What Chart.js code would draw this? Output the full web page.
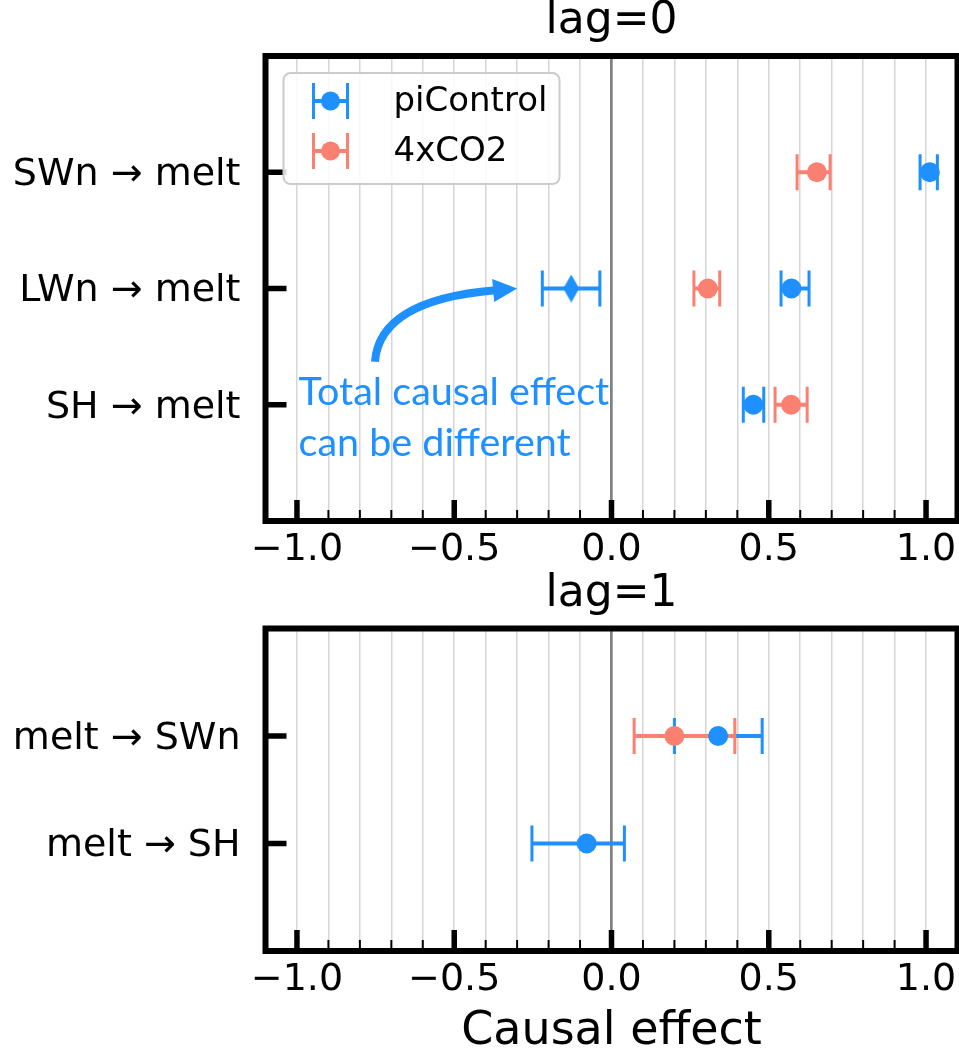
<!DOCTYPE html>
<html>
<head>
<meta charset="utf-8">
<script src="https://cdn.jsdelivr.net/npm/chart.js@4/dist/chart.umd.min.js"></script>
<style>
    html, body { margin: 0; padding: 0; background: #ffffff; }
    .panel { position: absolute; left: 0; }
    #panelTop { top: 0; }
    #panelBottom { top: 570px; }
</style>
</head>
<body>
<div class="panel" id="panelTop"><canvas id="lag0" width="959" height="570"></canvas></div>
<div class="panel" id="panelBottom"><canvas id="lag1" width="959" height="485"></canvas></div>
<script>
// ---- values ----
const seriesNames = ['piControl', '4xCO2'];
const seriesColors = ['#1E90FF', '#FA8072'];

const xTickValues = [-1.0, -0.5, 0.0, 0.5, 1.0];

// lag = 0 (rows listed top to bottom)
const lag0Labels = ['SWn → melt', 'LWn → melt', 'SH → melt'];
const lag0PiControl = [1.012, 0.572, 0.451];
const lag0PiControlLow = [0.981, 0.539, 0.419];
const lag0PiControlHigh = [1.036, 0.628, 0.484];
const lag0Co2 = [0.653, 0.306, 0.571];
const lag0Co2Low = [0.590, 0.262, 0.520];
const lag0Co2High = [0.695, 0.344, 0.622];

// total causal effect (diamond), LWn -> melt
const lag0TotalLabel = ['LWn → melt'];
const lag0Total = [-0.128];
const lag0TotalLow = [-0.220];
const lag0TotalHigh = [-0.037];

// lag = 1
const lag1Labels = ['melt → SWn', 'melt → SH'];
const lag1PiControl = [0.339, -0.079];
const lag1PiControlLow = [0.200, -0.253];
const lag1PiControlHigh = [0.479, 0.041];
const lag1Co2 = [0.200, null];
const lag1Co2Low = [0.072, null];
const lag1Co2High = [0.392, null];

const FONT = "'DejaVu Sans', sans-serif";

// row position: first label on top
function rowOf(labels, name) {
    return labels.length - 1 - labels.indexOf(name);
}

function makePoints(labels, values, low, high) {
    const pts = [];
    values.forEach((v, i) => {
        if (v === null) return;
        pts.push({ x: v, y: labels.length - 1 - i, xMin: low[i], xMax: high[i] });
    });
    return pts;
}

// tall thin diamond marker
function thinDiamond(color) {
    const c = document.createElement('canvas');
    c.width = 16;
    c.height = 28;
    const g = c.getContext('2d');
    g.fillStyle = color;
    g.beginPath();
    g.moveTo(8, 0);
    g.lineTo(16, 14);
    g.lineTo(8, 28);
    g.lineTo(0, 14);
    g.closePath();
    g.fill();
    return c;
}

function formatTick(v) {
    return (v < 0 ? '\u2212' : '') + Math.abs(v).toFixed(1);
}

// horizontal error bars drawn under the markers
const errorBarPlugin = {
    id: 'errorBars',
    beforeDatasetsDraw(chart) {
        const { ctx, scales: { x, y } } = chart;
        ctx.save();
        chart.data.datasets.forEach((ds) => {
            ctx.strokeStyle = ds.barColor;
            ds.data.forEach(p => {
                const py = y.getPixelForValue(p.y);
                const x0 = x.getPixelForValue(p.xMin);
                const x1 = x.getPixelForValue(p.xMax);
                ctx.lineWidth = 4;
                ctx.beginPath();
                ctx.moveTo(x0, py);
                ctx.lineTo(x1, py);
                ctx.stroke();
                ctx.lineWidth = 3;
                ctx.beginPath();
                ctx.moveTo(x0, py - 18);
                ctx.lineTo(x0, py + 18);
                ctx.moveTo(x1, py - 18);
                ctx.lineTo(x1, py + 18);
                ctx.stroke();
            });
        });
        ctx.restore();
    }
};

// frame, inward ticks, legend box and the annotation
const decorPlugin = {
    id: 'panelDecor',
    afterDatasetsDraw(chart, args, opts) {
        const { ctx, chartArea: a, scales: { x, y } } = chart;
        ctx.save();
        ctx.strokeStyle = '#000';

        // x ticks (bottom, inward)
        x.ticks.forEach(t => {
            const px = x.getPixelForValue(t.value);
            if (px < a.left + 2 || px > a.right - 2) return;
            const major = xTickValues.some(v => Math.abs(v - t.value) < 1e-9);
            ctx.lineWidth = major ? 5.5 : 2;
            ctx.beginPath();
            ctx.moveTo(px, a.bottom);
            ctx.lineTo(px, a.bottom - (major ? 21 : 11));
            ctx.stroke();
        });

        // y ticks (left, inward)
        ctx.lineWidth = 5.5;
        y.ticks.forEach(t => {
            const py = y.getPixelForValue(t.value);
            ctx.beginPath();
            ctx.moveTo(a.left, py);
            ctx.lineTo(a.left + 21, py);
            ctx.stroke();
        });

        // frame
        ctx.lineWidth = 6;
        ctx.strokeRect(a.left, a.top, a.right - a.left, a.bottom - a.top);
        ctx.restore();
    },
    afterDraw(chart, args, opts) {
        const { ctx, chartArea: a, scales: { x, y } } = chart;
        ctx.save();

        if (opts.legend) {
            const bx = a.left + 18, by = a.top + 17, bw = 276, bh = 111;
            ctx.fillStyle = 'rgba(255,255,255,0.85)';
            ctx.strokeStyle = '#cccccc';
            ctx.lineWidth = 2;
            ctx.beginPath();
            ctx.roundRect(bx, by, bw, bh, 7);
            ctx.fill();
            ctx.stroke();

            const entries = chart.data.datasets.filter(ds => ds.inLegend);
            entries.forEach((ds, i) => {
                const cy = by + 28 + i * 50;
                const cx = bx + 47;
                ctx.strokeStyle = ds.barColor;
                ctx.lineWidth = 4;
                ctx.beginPath();
                ctx.moveTo(cx - 17, cy);
                ctx.lineTo(cx + 17, cy);
                ctx.stroke();
                ctx.lineWidth = 3;
                ctx.beginPath();
                ctx.moveTo(cx - 17, cy - 18);
                ctx.lineTo(cx - 17, cy + 18);
                ctx.moveTo(cx + 17, cy - 18);
                ctx.lineTo(cx + 17, cy + 18);
                ctx.stroke();
                ctx.fillStyle = ds.barColor;
                ctx.beginPath();
                ctx.arc(cx, cy, 9.5, 0, Math.PI * 2);
                ctx.fill();

                ctx.fillStyle = '#000';
                ctx.font = '34px ' + FONT;
                ctx.textBaseline = 'middle';
                ctx.textAlign = 'left';
                ctx.fillText(ds.label, bx + 110, cy + 1);
            });
        }

        const note = opts.note;
        if (note) {
            ctx.fillStyle = note.color;
            ctx.font = note.font;
            ctx.textBaseline = 'alphabetic';
            ctx.textAlign = 'left';
            const tx = x.getPixelForValue(note.at[0]);
            const ty = y.getPixelForValue(note.at[1]);
            note.lines.forEach((line, i) => ctx.fillText(line, tx, ty + i * note.lineGap));

            // curved arrow
            const p0 = [x.getPixelForValue(note.arrowFrom[0]), y.getPixelForValue(note.arrowFrom[1])];
            const pc = [x.getPixelForValue(note.arrowCtrl[0]), y.getPixelForValue(note.arrowCtrl[1])];
            const tip = [x.getPixelForValue(note.arrowTo[0]), y.getPixelForValue(note.arrowTo[1])];
            const dx = tip[0] - pc[0], dy = tip[1] - pc[1];
            const len = Math.hypot(dx, dy);
            const ux = dx / len, uy = dy / len;
            const headLen = 24, headHalf = 11.5;
            const base = [tip[0] - ux * headLen, tip[1] - uy * headLen];

            ctx.strokeStyle = note.color;
            ctx.lineWidth = 8;
            ctx.lineCap = 'butt';
            ctx.beginPath();
            ctx.moveTo(p0[0], p0[1]);
            ctx.quadraticCurveTo(pc[0], pc[1], base[0] + ux * 2, base[1] + uy * 2);
            ctx.stroke();

            ctx.beginPath();
            ctx.moveTo(tip[0], tip[1]);
            ctx.lineTo(base[0] - uy * headHalf, base[1] + ux * headHalf);
            ctx.lineTo(base[0] + uy * headHalf, base[1] - ux * headHalf);
            ctx.closePath();
            ctx.fill();
        }
        ctx.restore();
    }
};

function buildPanel(canvasId, cfg) {
    const labels = cfg.labels;
    return new Chart(document.getElementById(canvasId), {
        type: 'scatter',
        data: { datasets: cfg.datasets },
        options: {
            responsive: false,
            animation: false,
            events: [],
            layout: { autoPadding: false, padding: { left: 0, right: 1.5, top: 0, bottom: 0 } },
            plugins: {
                legend: { display: false },
                tooltip: { enabled: false },
                title: {
                    display: true,
                    fullSize: false,
                    text: cfg.title,
                    color: '#000',
                    font: { family: FONT, size: 44, weight: 'normal', lineHeight: 1 },
                    padding: cfg.titlePadding
                },
                panelDecor: { legend: cfg.legend, note: cfg.note }
            },
            scales: {
                x: {
                    type: 'linear',
                    min: -1.1,
                    max: 1.1,
                    afterBuildTicks: s => {
                        const ticks = [];
                        for (let i = -11; i <= 11; i++) ticks.push({ value: i / 10 });
                        s.ticks = ticks;
                    },
                    afterFit: s => {
                        s.height = cfg.xAxisHeight;
                        s.paddingLeft = 0;
                        s.paddingRight = 0;
                    },
                    grid: {
                        drawTicks: false,
                        color: c => (c.tick && c.tick.value === 0) ? '#808080' : '#d6d6d6',
                        lineWidth: c => (c.tick && c.tick.value === 0) ? 2.7 : 1.5
                    },
                    border: { display: false },
                    ticks: {
                        autoSkip: false,
                        maxRotation: 0,
                        padding: 6,
                        color: '#000',
                        font: { family: FONT, size: 38 },
                        callback: v => xTickValues.some(t => Math.abs(t - v) < 1e-9) ? formatTick(v) : ''
                    },
                    title: cfg.xTitle ? {
                        display: true,
                        text: cfg.xTitle,
                        color: '#000',
                        font: { family: FONT, size: 46, lineHeight: 1 },
                        padding: { top: 0, bottom: 0 }
                    } : { display: false }
                },
                y: {
                    type: 'linear',
                    min: -1,
                    max: labels.length,
                    afterBuildTicks: s => {
                        s.ticks = labels.map((_, i) => ({ value: i }));
                    },
                    afterFit: s => {
                        s.width = 265.5;
                        s.paddingTop = 0;
                        s.paddingBottom = 0;
                    },
                    grid: { display: false, drawTicks: false },
                    border: { display: false },
                    ticks: {
                        autoSkip: false,
                        padding: 25,
                        labelOffset: 3,
                        color: '#000',
                        font: { family: FONT, size: 38 },
                        callback: v => labels[labels.length - 1 - v]
                    }
                }
            }
        },
        plugins: [errorBarPlugin, decorPlugin]
    });
}

function seriesDataset(i, points) {
    return {
        label: seriesNames[i],
        data: points,
        inLegend: true,
        barColor: seriesColors[i],
        backgroundColor: seriesColors[i],
        borderWidth: 0,
        pointRadius: 10,
        pointStyle: 'circle'
    };
}

// top panel
buildPanel('lag0', {
    title: 'lag=0',
    titlePadding: { top: 0, bottom: 12 },
    xAxisHeight: 49,
    labels: lag0Labels,
    legend: true,
    datasets: [
        seriesDataset(0, makePoints(lag0Labels, lag0PiControl, lag0PiControlLow, lag0PiControlHigh)),
        seriesDataset(1, makePoints(lag0Labels, lag0Co2, lag0Co2Low, lag0Co2High)),
        {
            label: 'total',
            data: lag0Total.map((v, i) => ({
                x: v, y: rowOf(lag0Labels, lag0TotalLabel[i]),
                xMin: lag0TotalLow[i], xMax: lag0TotalHigh[i]
            })),
            inLegend: false,
            barColor: seriesColors[0],
            pointStyle: thinDiamond(seriesColors[0]),
            pointRadius: 10
        }
    ],
    note: {
        lines: ['Total causal effect', 'can be different'],
        color: seriesColors[0],
        font: "39.5px Lato, 'Open Sans', sans-serif",
        at: [-0.995, 0.0],
        lineGap: 51,
        arrowFrom: [-0.752, 0.37],
        arrowCtrl: [-0.737, 0.90],
        arrowTo: [-0.30, 1.0]
    }
});

// bottom panel
buildPanel('lag1', {
    title: 'lag=1',
    titlePadding: { top: 3, bottom: 11.5 },
    xAxisHeight: 104,
    xTitle: 'Causal effect',
    labels: lag1Labels,
    legend: false,
    datasets: [
        seriesDataset(0, makePoints(lag1Labels, lag1PiControl, lag1PiControlLow, lag1PiControlHigh)),
        seriesDataset(1, makePoints(lag1Labels, lag1Co2, lag1Co2Low, lag1Co2High))
    ]
});
</script>
</body>
</html>
